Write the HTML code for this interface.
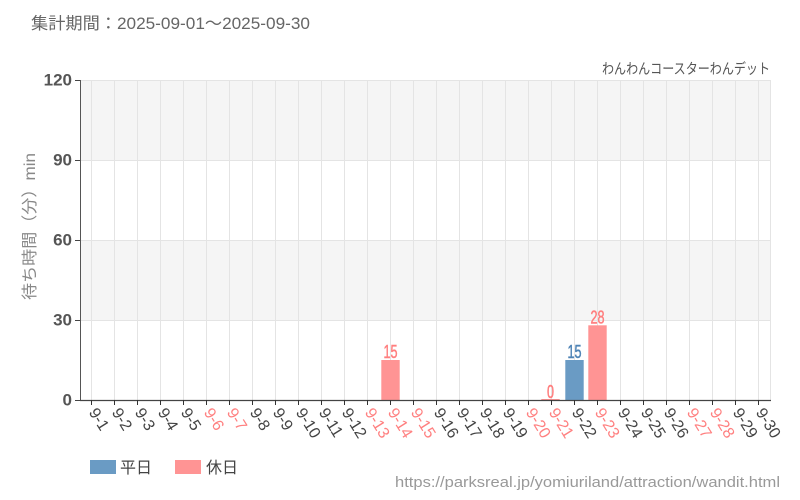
<!DOCTYPE html>
<html><head><meta charset="utf-8"><style>
html,body{margin:0;padding:0;background:#fff;}
svg{display:block;}
text{font-family:"Liberation Sans","Noto Sans CJK JP",sans-serif;}
</style></head><body>
<svg width="800" height="500" viewBox="0 0 800 500" xmlns="http://www.w3.org/2000/svg">
<rect width="800" height="500" fill="#fff"/>
<text x="31" y="29" font-size="16.5" fill="#666" textLength="279" lengthAdjust="spacingAndGlyphs">集計期間：2025-09-01～2025-09-30</text>
<text x="770" y="74" font-size="14.5" fill="#555" text-anchor="end" textLength="168" lengthAdjust="spacingAndGlyphs">わんわんコースターわんデット</text>
<rect x="80" y="80" width="690" height="80" fill="#f5f5f5"/>
<rect x="80" y="240" width="690" height="80" fill="#f5f5f5"/>
<g stroke="#e4e4e4" stroke-width="1">
<line x1="80" y1="80.5" x2="770" y2="80.5"/>
<line x1="80" y1="160.5" x2="770" y2="160.5"/>
<line x1="80" y1="240.5" x2="770" y2="240.5"/>
<line x1="80" y1="320.5" x2="770" y2="320.5"/>
</g>
<g stroke="#e4e4e4">
<line x1="91.5" y1="80" x2="91.5" y2="400"/><line x1="114.5" y1="80" x2="114.5" y2="400"/><line x1="137.5" y1="80" x2="137.5" y2="400"/><line x1="160.5" y1="80" x2="160.5" y2="400"/><line x1="183.5" y1="80" x2="183.5" y2="400"/><line x1="206.5" y1="80" x2="206.5" y2="400"/><line x1="229.5" y1="80" x2="229.5" y2="400"/><line x1="252.5" y1="80" x2="252.5" y2="400"/><line x1="275.5" y1="80" x2="275.5" y2="400"/><line x1="298.5" y1="80" x2="298.5" y2="400"/><line x1="321.5" y1="80" x2="321.5" y2="400"/><line x1="344.5" y1="80" x2="344.5" y2="400"/><line x1="367.5" y1="80" x2="367.5" y2="400"/><line x1="390.5" y1="80" x2="390.5" y2="400"/><line x1="413.5" y1="80" x2="413.5" y2="400"/><line x1="436.5" y1="80" x2="436.5" y2="400"/><line x1="459.5" y1="80" x2="459.5" y2="400"/><line x1="482.5" y1="80" x2="482.5" y2="400"/><line x1="505.5" y1="80" x2="505.5" y2="400"/><line x1="528.5" y1="80" x2="528.5" y2="400"/><line x1="551.5" y1="80" x2="551.5" y2="400"/><line x1="574.5" y1="80" x2="574.5" y2="400"/><line x1="597.5" y1="80" x2="597.5" y2="400"/><line x1="620.5" y1="80" x2="620.5" y2="400"/><line x1="643.5" y1="80" x2="643.5" y2="400"/><line x1="666.5" y1="80" x2="666.5" y2="400"/><line x1="689.5" y1="80" x2="689.5" y2="400"/><line x1="712.5" y1="80" x2="712.5" y2="400"/><line x1="735.5" y1="80" x2="735.5" y2="400"/><line x1="758.5" y1="80" x2="758.5" y2="400"/><line x1="770.5" y1="80" x2="770.5" y2="400"/>
</g>
<rect x="381.3" y="360" width="18.4" height="40" fill="#ff9494"/>
<rect x="541.3" y="399" width="18.4" height="1" fill="#ff9494"/>
<rect x="565.3" y="360" width="18.4" height="40" fill="#6a9bc4"/>
<rect x="588.3" y="325.3" width="18.4" height="74.7" fill="#ff9494"/>
<g font-size="18" text-anchor="middle" stroke-width="0.5">
<text x="390.5" y="358" fill="#ff7f7f" stroke="#ff7f7f" textLength="14" lengthAdjust="spacingAndGlyphs">15</text>
<text x="550.5" y="398" fill="#ff7f7f" stroke="#ff7f7f" textLength="7" lengthAdjust="spacingAndGlyphs">0</text>
<text x="574.5" y="358" fill="#4e83b5" stroke="#4e83b5" textLength="14" lengthAdjust="spacingAndGlyphs">15</text>
<text x="597.5" y="323.5" fill="#ff7f7f" stroke="#ff7f7f" textLength="14" lengthAdjust="spacingAndGlyphs">28</text>
</g>
<line x1="80.5" y1="80" x2="80.5" y2="400" stroke="#555" stroke-width="1"/>
<line x1="80" y1="400.5" x2="771" y2="400.5" stroke="#444" stroke-width="1.2"/>
<g stroke="#444" stroke-width="1">
<line x1="75" y1="80.5" x2="80" y2="80.5"/>
<line x1="75" y1="160.5" x2="80" y2="160.5"/>
<line x1="75" y1="240.5" x2="80" y2="240.5"/>
<line x1="75" y1="320.5" x2="80" y2="320.5"/>
<line x1="75" y1="400.5" x2="80" y2="400.5"/>
</g>
<g font-size="17" font-weight="bold" fill="#555" text-anchor="end" dominant-baseline="middle">
<text x="72" y="81">120</text>
<text x="72" y="161">90</text>
<text x="72" y="241">60</text>
<text x="72" y="321">30</text>
<text x="72" y="401">0</text>
</g>
<text transform="translate(35,226.5) rotate(-90)" font-size="16" fill="#888" text-anchor="middle" textLength="147" lengthAdjust="spacingAndGlyphs">待ち時間（分）min</text>
<rect x="90" y="460" width="26" height="14" fill="#6a9bc4"/>
<text x="120" y="473" font-size="16" fill="#444" textLength="32" lengthAdjust="spacingAndGlyphs">平日</text>
<rect x="175" y="460" width="26" height="14" fill="#ff9494"/>
<text x="206" y="473" font-size="16" fill="#444" textLength="32" lengthAdjust="spacingAndGlyphs">休日</text>
<text x="395" y="487" font-size="15" fill="#999" textLength="385" lengthAdjust="spacingAndGlyphs">https://parksreal.jp/yomiuriland/attraction/wandit.html</text>
<g stroke="#333">
<line x1="91.5" y1="400" x2="91.5" y2="405"/><line x1="114.5" y1="400" x2="114.5" y2="405"/><line x1="137.5" y1="400" x2="137.5" y2="405"/><line x1="160.5" y1="400" x2="160.5" y2="405"/><line x1="183.5" y1="400" x2="183.5" y2="405"/><line x1="206.5" y1="400" x2="206.5" y2="405"/><line x1="229.5" y1="400" x2="229.5" y2="405"/><line x1="252.5" y1="400" x2="252.5" y2="405"/><line x1="275.5" y1="400" x2="275.5" y2="405"/><line x1="298.5" y1="400" x2="298.5" y2="405"/><line x1="321.5" y1="400" x2="321.5" y2="405"/><line x1="344.5" y1="400" x2="344.5" y2="405"/><line x1="367.5" y1="400" x2="367.5" y2="405"/><line x1="390.5" y1="400" x2="390.5" y2="405"/><line x1="413.5" y1="400" x2="413.5" y2="405"/><line x1="436.5" y1="400" x2="436.5" y2="405"/><line x1="459.5" y1="400" x2="459.5" y2="405"/><line x1="482.5" y1="400" x2="482.5" y2="405"/><line x1="505.5" y1="400" x2="505.5" y2="405"/><line x1="528.5" y1="400" x2="528.5" y2="405"/><line x1="551.5" y1="400" x2="551.5" y2="405"/><line x1="574.5" y1="400" x2="574.5" y2="405"/><line x1="597.5" y1="400" x2="597.5" y2="405"/><line x1="620.5" y1="400" x2="620.5" y2="405"/><line x1="643.5" y1="400" x2="643.5" y2="405"/><line x1="666.5" y1="400" x2="666.5" y2="405"/><line x1="689.5" y1="400" x2="689.5" y2="405"/><line x1="712.5" y1="400" x2="712.5" y2="405"/><line x1="735.5" y1="400" x2="735.5" y2="405"/><line x1="758.5" y1="400" x2="758.5" y2="405"/>
</g>
<g font-size="16" dominant-baseline="middle">
<text transform="translate(92,410) rotate(58)" fill="#444">9-1</text>
<text transform="translate(115,410) rotate(58)" fill="#444">9-2</text>
<text transform="translate(138,410) rotate(58)" fill="#444">9-3</text>
<text transform="translate(161,410) rotate(58)" fill="#444">9-4</text>
<text transform="translate(184,410) rotate(58)" fill="#444">9-5</text>
<text transform="translate(207,410) rotate(58)" fill="#ff8080">9-6</text>
<text transform="translate(230,410) rotate(58)" fill="#ff8080">9-7</text>
<text transform="translate(253,410) rotate(58)" fill="#444">9-8</text>
<text transform="translate(276,410) rotate(58)" fill="#444">9-9</text>
<text transform="translate(299,410) rotate(58)" fill="#444">9-10</text>
<text transform="translate(322,410) rotate(58)" fill="#444">9-11</text>
<text transform="translate(345,410) rotate(58)" fill="#444">9-12</text>
<text transform="translate(368,410) rotate(58)" fill="#ff8080">9-13</text>
<text transform="translate(391,410) rotate(58)" fill="#ff8080">9-14</text>
<text transform="translate(414,410) rotate(58)" fill="#ff8080">9-15</text>
<text transform="translate(437,410) rotate(58)" fill="#444">9-16</text>
<text transform="translate(460,410) rotate(58)" fill="#444">9-17</text>
<text transform="translate(483,410) rotate(58)" fill="#444">9-18</text>
<text transform="translate(506,410) rotate(58)" fill="#444">9-19</text>
<text transform="translate(529,410) rotate(58)" fill="#ff8080">9-20</text>
<text transform="translate(552,410) rotate(58)" fill="#ff8080">9-21</text>
<text transform="translate(575,410) rotate(58)" fill="#444">9-22</text>
<text transform="translate(598,410) rotate(58)" fill="#ff8080">9-23</text>
<text transform="translate(621,410) rotate(58)" fill="#444">9-24</text>
<text transform="translate(644,410) rotate(58)" fill="#444">9-25</text>
<text transform="translate(667,410) rotate(58)" fill="#444">9-26</text>
<text transform="translate(690,410) rotate(58)" fill="#ff8080">9-27</text>
<text transform="translate(713,410) rotate(58)" fill="#ff8080">9-28</text>
<text transform="translate(736,410) rotate(58)" fill="#444">9-29</text>
<text transform="translate(759,410) rotate(58)" fill="#444">9-30</text>
</g>
</svg>
</body></html>
